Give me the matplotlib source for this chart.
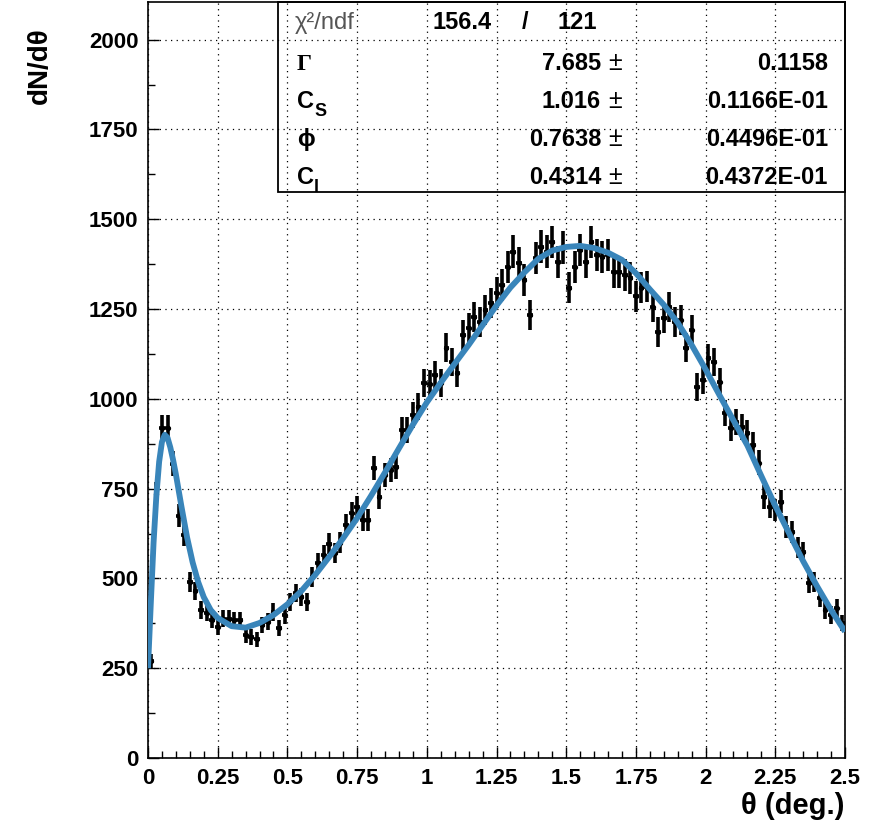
import numpy as np
import matplotlib
matplotlib.use("Agg")
from matplotlib import pyplot as plt
from matplotlib.ticker import MultipleLocator
from matplotlib.patches import Rectangle

# angular distribution, 125 bins of 0.02 deg between 0 and 2.5
BIN_LO = 0.0
BIN_HI = 2.5
N_BINS = 125

counts = [
    270, 735, 920, 920, 820, 675, 620, 490, 465, 412,
    405, 385, 365, 388, 388, 384, 384, 343, 337, 330,
    370, 379, 407, 362, 398, 435, 459, 449, 435, 504,
    543, 565, 597, 571, 599, 649, 682, 699, 663, 663,
    808, 727, 788, 802, 811, 914, 914, 955, 978, 1045,
    1042, 1067, 1045, 1142, 1103, 1072, 1178, 1198, 1228, 1215,
    1248, 1267, 1295, 1317, 1368, 1410, 1379, 1331, 1234, 1393,
    1424, 1410, 1437, 1382, 1421, 1309, 1368, 1415, 1382, 1437,
    1401, 1396, 1401, 1354, 1354, 1345, 1337, 1285, 1309, 1312,
    1256, 1187, 1226, 1256, 1215, 1220, 1142, 1192, 1034, 1053,
    1114, 1103, 1047, 961, 919, 936, 922, 905, 872, 822,
    727, 699, 691, 713, 643, 630, 585, 574, 487, 490,
    446, 412, 398, 418, 376,
]

# fitted function sampled along theta
fit_theta = [0.0, 0.01, 0.02, 0.03, 0.04, 0.05, 0.06, 0.07, 0.08, 0.09,
             0.10, 0.12, 0.14, 0.16, 0.18, 0.20, 0.225, 0.25, 0.30, 0.35,
             0.40, 0.45, 0.50, 0.55, 0.60, 0.65, 0.70, 0.75, 0.80, 0.85,
             0.90, 0.95, 1.00, 1.05, 1.10, 1.15, 1.20, 1.25, 1.30, 1.35,
             1.40, 1.45, 1.50, 1.55, 1.60, 1.65, 1.70, 1.75, 1.80, 1.85,
             1.90, 1.95, 2.00, 2.05, 2.10, 2.15, 2.20, 2.25, 2.30, 2.35,
             2.40, 2.45, 2.50]
fit_val = [250, 430, 600, 730, 825, 880, 900, 892, 865, 830,
           790, 700, 615, 545, 490, 448, 412, 390, 367, 363,
           376, 398, 428, 465, 510, 560, 612, 668, 730, 795,
           862, 928, 990, 1045, 1098, 1150, 1205, 1260, 1310, 1352,
           1390, 1413, 1423, 1426, 1420, 1407, 1387, 1350, 1305, 1262,
           1212, 1150, 1082, 1010, 940, 870, 785, 702, 625, 548,
           478, 412, 352]

fit_names = ["Γ", "C", "ϕ", "C"]
fit_subs = ["", "S", "", "l"]
fit_pars = ["7.685", "1.016", "0.7638", "0.4314"]
fit_errs = ["0.1158", "0.1166E-01", "0.4496E-01", "0.4372E-01"]
chi2 = "156.4"
ndf = "121"

x_ticks = [0, 0.25, 0.5, 0.75, 1, 1.25, 1.5, 1.75, 2, 2.25, 2.5]
x_labels = ["0", "0.25", "0.5", "0.75", "1", "1.25", "1.5", "1.75", "2", "2.25", "2.5"]

FONT = ["Liberation Sans", "DejaVu Sans"]
W, H = 878, 830


def fx(px):
    return px / W


def fy(py):
    return 1 - py / H


counts = np.array(counts, dtype=float)
width = (BIN_HI - BIN_LO) / N_BINS
theta = BIN_LO + width * (np.arange(N_BINS) + 0.5)
# event weights inflate the plain poisson errors a little
yerr = 1.2 * np.sqrt(counts)

fig = plt.figure(figsize=(W / 100, H / 100), dpi=100)
ax = fig.add_axes([fx(148), 72 / H, 697 / W, 756 / H])

ax.errorbar(theta, counts, xerr=width / 2, yerr=yerr, fmt='o', ms=2.8,
            color='black', ecolor='black', elinewidth=2.6, capsize=0, zorder=3)
ax.plot(fit_theta, fit_val, color='#3985ba', lw=4.2, solid_capstyle='butt',
        solid_joinstyle='round', zorder=4)

ax.set_xlim(BIN_LO, BIN_HI)
ax.set_ylim(0, 2105)
ax.set_xticks(x_ticks)
ax.set_xticklabels(x_labels)
ax.yaxis.set_major_locator(MultipleLocator(250))
ax.xaxis.set_minor_locator(MultipleLocator(0.05))
ax.yaxis.set_minor_locator(MultipleLocator(125))
ax.tick_params(which='both', direction='in', top=False, right=False, width=1)
ax.tick_params(which='major', length=8, pad=7)
ax.tick_params(which='minor', length=5)
for lab in ax.get_xticklabels() + ax.get_yticklabels():
    lab.set_family(FONT)
    lab.set_fontweight('bold')
    lab.set_fontsize(16)
for sp in ax.spines.values():
    sp.set_linewidth(1.2)
ax.grid(True, which='major', color='black', lw=0.9, linestyle=(0, (1, 3.5)), zorder=1)

fig.text(fx(40), fy(27), "dN/dθ", rotation=90, ha='center', va='top',
         family=FONT, fontweight='bold', fontsize=20)
fig.text(fx(845), fy(806), "θ (deg.)", ha='right', va='center',
         family=FONT, fontweight='bold', fontsize=21)

# stats box with fit results
box = Rectangle((fx(278), fy(192)), fx(845) - fx(278), fy(2) - fy(192),
                transform=fig.transFigure, fill=False, edgecolor='black', lw=1.3, zorder=5)
fig.patches.append(box)

rows = [29, 70, 108, 146, 184]
fig.text(fx(295), fy(rows[0]), "χ²/ndf", ha='left', va='baseline', family=FONT,
         fontsize=17, color='#555555', fontweight='light')
fig.text(fx(433), fy(rows[0]), chi2, ha='left', va='baseline', family=FONT,
         fontsize=17, fontweight='bold')
fig.text(fx(525), fy(rows[0]), "/", ha='center', va='baseline', family=FONT,
         fontsize=17, fontweight='bold')
fig.text(fx(597), fy(rows[0]), ndf, ha='right', va='baseline', family=FONT,
         fontsize=17, fontweight='bold')

for i in range(4):
    yb = fy(rows[i + 1])
    name_font = ["Liberation Serif", "DejaVu Serif"] if fit_names[i] == "Γ" else FONT
    fig.text(fx(297), yb, fit_names[i], ha='left', va='baseline',
             family=name_font, fontsize=17, fontweight='bold')
    if fit_subs[i]:
        fig.text(fx(314), yb - 8 / H, fit_subs[i], ha='left', va='baseline',
                 family=FONT, fontsize=13, fontweight='bold')
    fig.text(fx(601), yb, fit_pars[i], ha='right', va='baseline', family=FONT,
             fontsize=17, fontweight='bold')
    fig.text(fx(608), yb, "±", ha='left', va='baseline', family=FONT,
             fontsize=18, fontweight='normal')
    fig.text(fx(828), yb, fit_errs[i], ha='right', va='baseline', family=FONT,
             fontsize=17, fontweight='bold')

plt.savefig("out.png", dpi=100)
